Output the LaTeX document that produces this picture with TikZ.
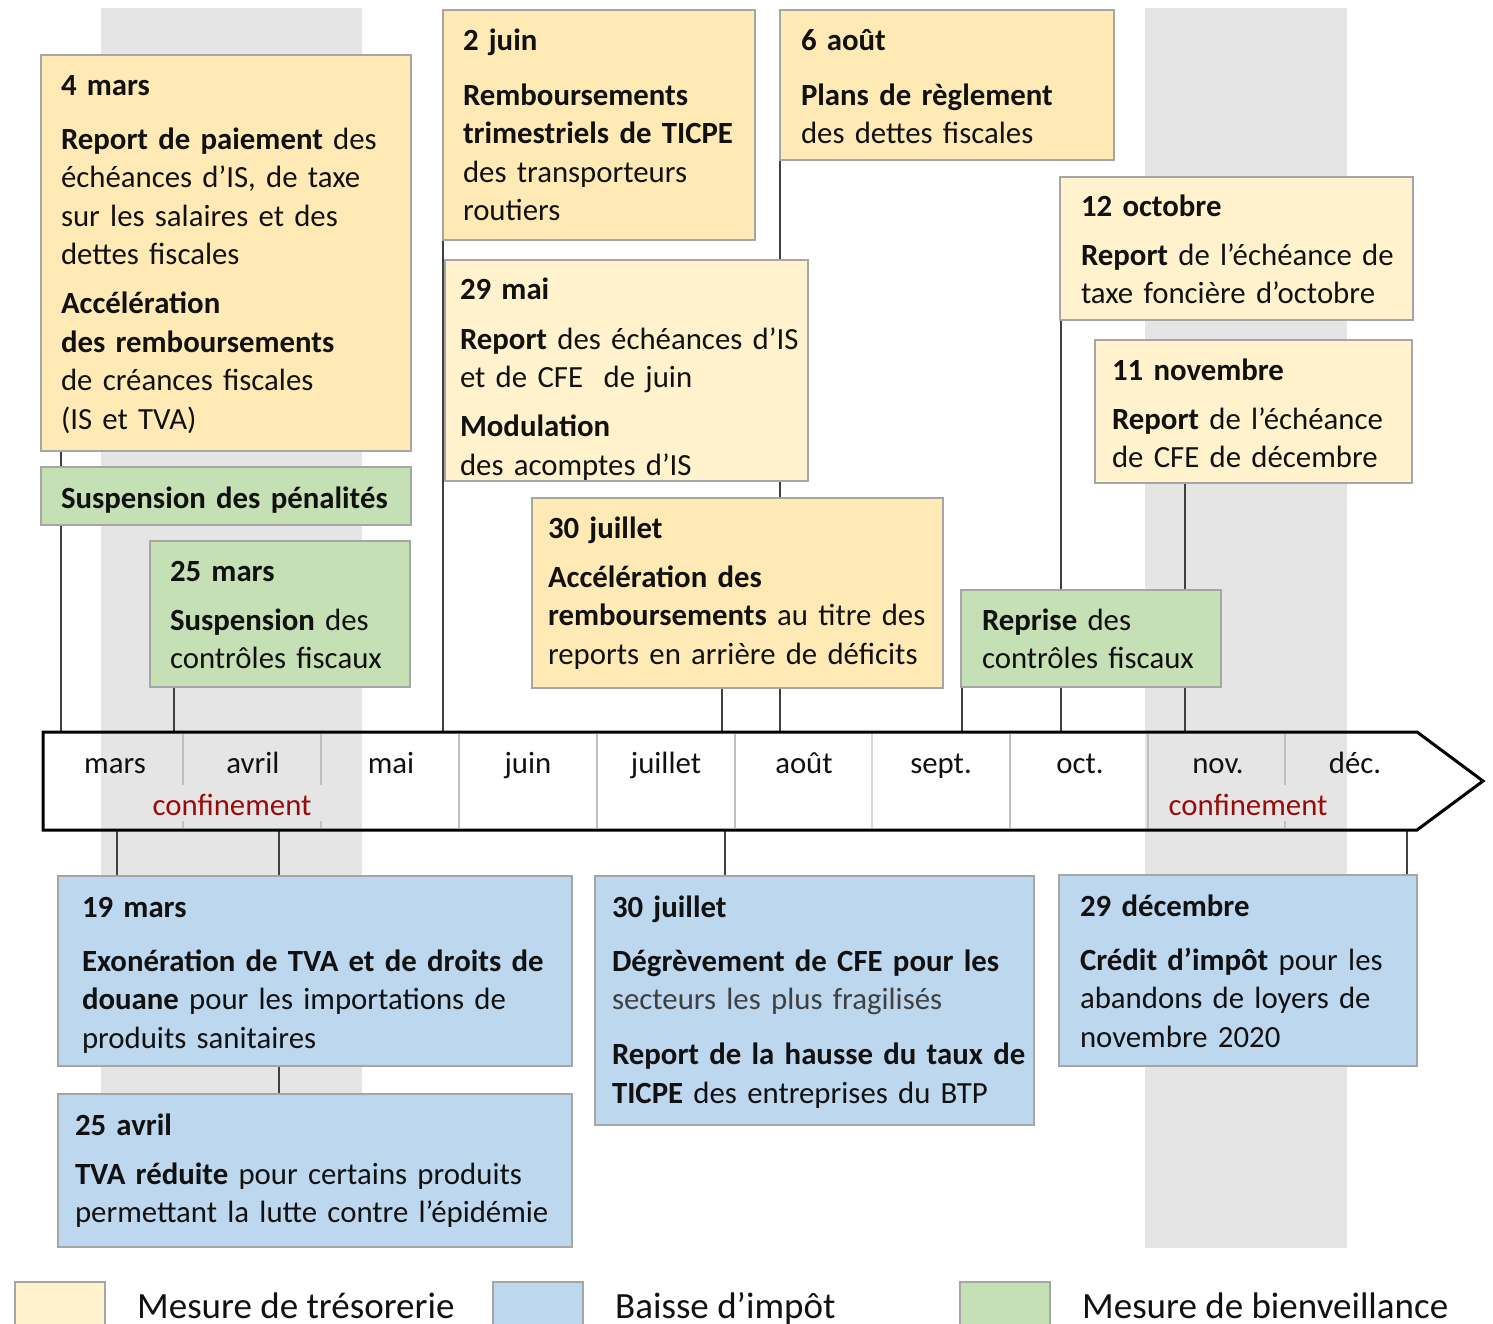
\documentclass[tikz,border=0pt]{standalone}
\usepackage{fontspec}
\setmainfont{Carlito}
\definecolor{ydark}{HTML}{FFEAB6}
\definecolor{ylight}{HTML}{FFF2CC}
\definecolor{bblue}{HTML}{BDD7EE}
\definecolor{ggreen}{HTML}{C5E0B4}
\definecolor{bandc}{HTML}{E5E5E5}
\definecolor{bord}{HTML}{A6A6A6}
\definecolor{confc}{HTML}{9B0A0A}
\definecolor{txtc}{HTML}{111111}
\definecolor{divc}{HTML}{C0C0C0}
\definecolor{graytxt}{HTML}{404040}
\pgfdeclarelayer{bg}
\pgfsetlayers{bg,main}
\tikzset{
  boxbase/.style={draw=bord, line width=2pt, inner sep=0pt, outer sep=0pt, anchor=north west},
  ybox/.style={boxbase, fill=ydark},
  lbox/.style={boxbase, fill=ylight},
  bbox/.style={boxbase, fill=bblue},
  gbox/.style={boxbase, fill=ggreen},
  txtn/.style={anchor=base west, inner sep=0pt, outer sep=0pt, align=left, text width=560pt, text=txtc, font=\fontsize{30.8}{38.5}\selectfont},
  conn/.style={draw=black!75, line width=1.3pt},
  month/.style={anchor=base, inner sep=0pt, text=txtc, font=\fontsize{30.8}{38.5}\selectfont},
  confl/.style={anchor=base, inner sep=0pt, text=confc, font=\fontsize{30.8}{38.5}\selectfont},
  divl/.style={draw=divc, line width=2.5pt},
  legl/.style={anchor=base west, inner sep=0pt, text=txtc, font=\fontsize{37}{44}\selectfont},
}
\begin{document}
\begin{tikzpicture}[x=1pt,y=-1pt]
\useasboundingbox (0,0) rectangle (1493,1323);
\clip (0,0) rectangle (1493,1323);

% ---------- boxes (top) ----------
\node[ybox, minimum width=370pt, minimum height=396pt] (b4mars) at (41,55) {};
\node[gbox, minimum width=370pt, minimum height=58pt] (bpen) at (41,467) {};
\node[gbox, minimum width=260pt, minimum height=146pt] (b25mars) at (150,541) {};
\node[ybox, minimum width=312pt, minimum height=230pt] (b2juin) at (443,10) {};
\node[lbox, minimum width=363pt, minimum height=221pt] (b29mai) at (445,260) {};
\node[ybox, minimum width=334pt, minimum height=150pt] (b6aout) at (780,10) {};
\node[ybox, minimum width=411pt, minimum height=190pt] (b30jt) at (532,498) {};
\node[lbox, minimum width=353pt, minimum height=143pt] (b12oct) at (1060,177) {};
\node[lbox, minimum width=317pt, minimum height=143pt] (b11nov) at (1095,340) {};
\node[gbox, minimum width=260pt, minimum height=97pt] (brep) at (961,590) {};

% ---------- boxes (bottom) ----------
\node[bbox, minimum width=514pt, minimum height=190pt] (b19mars) at (58,876) {};
\node[bbox, minimum width=514pt, minimum height=153pt] (b25avr) at (58,1094) {};
\node[bbox, minimum width=439pt, minimum height=249pt] (b30jb) at (595,876) {};
\node[bbox, minimum width=358pt, minimum height=191pt] (b29dec) at (1059,875) {};

% ---------- texts ----------
\node[txtn] (t4mars) at (61,95) {\textbf{4 mars}\\[15.5pt]
\textbf{Report de paiement} des\\
échéances d’IS, de taxe\\
sur les salaires et des\\
dettes fiscales\\[10.5pt]
\textbf{Accélération}\\
\textbf{des remboursements}\\
de créances fiscales\\
(IS et TVA)};
\node[txtn] (tpen) at (61,508) {\textbf{Suspension des pénalités}};
\node[txtn] (t25mars) at (170,581) {\textbf{25 mars}\\[10.5pt]
\textbf{Suspension} des\\
contrôles fiscaux};
\node[txtn] (t2juin) at (463,50) {\textbf{2 juin}\\[16.5pt]
\textbf{Remboursements}\\
\textbf{trimestriels de TICPE}\\
des transporteurs\\
routiers};
\node[txtn] (t29mai) at (460,299) {\textbf{29 mai}\\[11.5pt]
\textbf{Report} des échéances d’IS\\
et de CFE\ \ de juin\\[10.5pt]
\textbf{Modulation}\\
des acomptes d’IS};
\node[txtn] (t6aout) at (801,50) {\textbf{6 août}\\[16.5pt]
\textbf{Plans de règlement}\\
des dettes fiscales};
\node[txtn] (t30jt) at (548,538) {\textbf{30 juillet}\\[10.5pt]
\textbf{Accélération des}\\
\textbf{remboursements} au titre des\\
reports en arrière de déficits};
\node[txtn] (t12oct) at (1081,216) {\textbf{12 octobre}\\[10.5pt]
\textbf{Report} de l’échéance de\\
taxe foncière d’octobre};
\node[txtn] (t11nov) at (1112,380) {\textbf{11 novembre}\\[10.5pt]
\textbf{Report} de l’échéance\\
de CFE de décembre};
\node[txtn] (trep) at (982,630) {\textbf{Reprise} des\\
contrôles fiscaux};
\node[txtn] (t19mars) at (82,917) {\textbf{19 mars}\\[15.5pt]
\textbf{Exonération de TVA et de droits de}\\
\textbf{douane} pour les importations de\\
produits sanitaires};
\node[txtn] (t25avr) at (75,1135) {\textbf{25 avril}\\[10.5pt]
\textbf{TVA réduite} pour certains produits\\
permettant la lutte contre l’épidémie};
\node[txtn] (t30jb) at (612,917) {\textbf{30 juillet}\\[15.5pt]
\textbf{Dégrèvement de CFE pour les}\\
{\color{graytxt}secteurs les plus fragilisés}\\[16.5pt]
\textbf{Report de la hausse du taux de}\\
\textbf{TICPE} des entreprises du BTP};
\node[txtn] (t29dec) at (1080,916) {\textbf{29 décembre}\\[15.5pt]
\textbf{Crédit d’impôt} pour les\\
abandons de loyers de\\
novembre 2020};

% ---------- timeline anchor points ----------
\coordinate (u4mars) at (61,732);
\coordinate (u25mars) at (174,732);
\coordinate (u2juin) at (443,732);
\coordinate (u30jt) at (722,732);
\coordinate (u6aout) at (780,732);
\coordinate (urep) at (962,732);
\coordinate (u12oct) at (1061,732);
\coordinate (u11nov) at (1185,732);
\coordinate (d19mars) at (117,830);
\coordinate (d25avr) at (279,830);
\coordinate (d30jb) at (725,830);
\coordinate (d29dec) at (1407,830);

\begin{pgfonlayer}{bg}
  \fill[bandc] (101,8) rectangle (362,1248);
  \fill[bandc] (1145,8) rectangle (1347,1248);
  \draw[conn] (b4mars.south -| u4mars) -- (u4mars);
  \draw[conn] (b25mars.south -| u25mars) -- (u25mars);
  \draw[conn] (b2juin.south -| u2juin) -- (u2juin);
  \draw[conn] (b30jt.south -| u30jt) -- (u30jt);
  \draw[conn] (b6aout.south -| u6aout) -- (u6aout);
  \draw[conn] (brep.south -| urep) -- (urep);
  \draw[conn] (b12oct.south -| u12oct) -- (u12oct);
  \draw[conn] (b11nov.south -| u11nov) -- (u11nov);
  \draw[conn] (d19mars) -- (b19mars.north -| d19mars);
  \draw[conn] (d25avr) -- (b25avr.north -| d25avr);
  \draw[conn] (d30jb) -- (b30jb.north -| d30jb);
  \draw[conn] (d29dec) -- (b29dec.north -| d29dec);
\end{pgfonlayer}

% ---------- timeline ----------
\foreach \xx in {459,597,735,1010,1148} {\draw[divl] (\xx,734) -- (\xx,828);}
\draw[divl, draw=divc!60] (872,734) -- (872,828);
\foreach \xx in {183,321,1285} {\draw[divl] (\xx,734) -- (\xx,785); \draw[divl] (\xx,821) -- (\xx,828);}
\draw[line width=3pt, line join=miter] (43,732) -- (1417,732) -- (1483,781) -- (1417,830) -- (43,830) -- cycle;

\node[month] (mmars) at (115,773) {mars};
\node[month] (mavr) at (253,773) {avril};
\node[month] (mmai) at (391,773) {mai};
\node[month] (mjuin) at (528,773) {juin};
\node[month] (mjuil) at (666,773) {juillet};
\node[month] (maout) at (804,773) {août};
\node[month] (msept) at (941,773) {sept.};
\node[month] (moct) at (1080,773) {oct.};
\node[month] (mnov) at (1218,773) {nov.};
\node[month] (mdec) at (1355,773) {déc.};
\node[confl] (conf1) at (232,815) {confinement};
\node[confl] (conf2) at (1248,815) {confinement};

% ---------- legend ----------
\node[lbox, minimum width=90pt, minimum height=60pt] (lg1) at (15,1282) {};
\node[bbox, minimum width=90pt, minimum height=60pt] (lg2) at (493,1282) {};
\node[gbox, minimum width=90pt, minimum height=60pt] (lg3) at (960,1282) {};
\node[legl] (lt1) at (137,1318) {Mesure de trésorerie};
\node[legl] (lt2) at (615,1318) {Baisse d’impôt};
\node[legl] (lt3) at (1082,1318) {Mesure de bienveillance};
\end{tikzpicture}
\end{document}
